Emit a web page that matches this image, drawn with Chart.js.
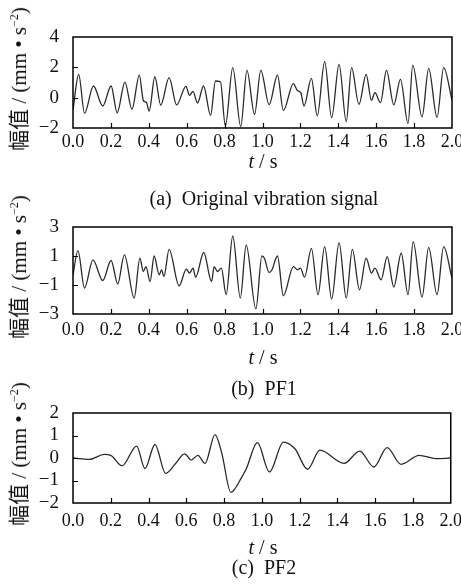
<!DOCTYPE html>
<html>
<head>
<meta charset="utf-8">
<script src="https://cdn.jsdelivr.net/npm/chart.js@4.4.1/dist/chart.umd.min.js"></script>
<style>
  body { margin: 0; background: #fff; }
  #fig { position: relative; width: 461px; height: 585px; overflow: hidden;
         font-family: "Liberation Serif", "Noto Sans CJK SC", serif; color: #111; }
  .panel { position: absolute; left: 0; }
  .lbl { position: absolute; white-space: nowrap; transform: translate(-50%, -50%); font-size: 20px;
         font-family: "Liberation Serif", "Noto Sans CJK SC", serif; }
  .ytitle { transform: translate(-50%, -50%) rotate(-90deg); font-size: 21px; }
  .ytitle sup { font-size: 12px; }
</style>
</head>
<body>
<div id="fig"></div>
<script>
const timeA = [0.0, 0.03, 0.061, 0.108, 0.157, 0.201, 0.233, 0.274, 0.311, 0.35, 0.371, 0.388, 0.402, 0.432, 0.463,
  0.507, 0.547, 0.596, 0.615, 0.633, 0.657, 0.689, 0.726, 0.752, 0.778, 0.804, 0.843, 0.885, 0.918, 0.958, 0.991,
  1.035, 1.079, 1.11, 1.163, 1.184, 1.202, 1.219, 1.258, 1.289, 1.328, 1.365, 1.404, 1.442, 1.47, 1.509, 1.547,
  1.575, 1.593, 1.623, 1.654, 1.693, 1.728, 1.768, 1.793, 1.842, 1.877, 1.921, 1.956, 2.0];
const ampA = [-0.8, 1.54, -1.03, 0.77, -0.55, 0.77, -1.0, 1.03, -0.77, 1.49, -0.18, -0.33, -0.88, 1.38, -0.5,
  1.32, -0.48, 0.75, 0.15, 0.42, -0.35, 0.77, -1.16, 1.1, 1.05, -1.85, 1.98, -1.9, 1.8, -1.1, 1.8,
  -0.46, 1.49, -0.84, 0.92, 0.48, 0.33, -0.55, 1.27, -1.2, 2.37, -1.32, 2.2, -1.58, 1.98, -0.44, 1.54,
  -0.18, 0.33, -0.33, 1.8, -0.48, 1.2, -1.71, 2.15, -1.27, 1.93, -1.3, 1.98, -0.15];

// Signal (b): PF1
const timeB = [0.0, 0.026, 0.061, 0.105, 0.157, 0.201, 0.236, 0.271, 0.323, 0.353, 0.371, 0.385, 0.407, 0.428, 0.455,
  0.467, 0.48, 0.507, 0.56, 0.598, 0.615, 0.633, 0.647, 0.69, 0.731, 0.745, 0.762, 0.783, 0.808, 0.843, 0.883,
  0.914, 0.965, 0.997, 1.01, 1.035, 1.05, 1.079, 1.11, 1.163, 1.184, 1.2, 1.222, 1.258, 1.293, 1.328, 1.365,
  1.404, 1.442, 1.474, 1.512, 1.547, 1.575, 1.593, 1.626, 1.658, 1.693, 1.732, 1.768, 1.795, 1.842, 1.877,
  1.921, 1.956, 2.0];
const ampB = [-0.3, 1.37, -1.21, 0.73, -0.69, 0.69, -0.92, 1.08, -1.9, 0.85, -0.07, 0.27, -0.76, 1.0, -0.3,
  0.05, -0.41, 1.46, -1.05, 0.09, -0.18, 0.16, -0.46, 1.24, -0.76, 0.27, -0.07, 0.16, -1.67, 2.38, -1.9,
  1.76, -2.65, 1.0, 0.85, -0.14, 0.05, 1.0, -1.74, 0.27, 0.05, 0.16, -0.46, 1.53, -1.67, 1.65, -1.97,
  1.92, -1.9, 1.46, -1.33, 0.85, -0.18, 0.16, -0.64, 0.96, -1.14, 1.19, -1.67, 1.99, -1.83, 1.6,
  -1.67, 1.65, -0.53];

// Signal (c): PF2
const timeC = [0.0, 0.087, 0.166, 0.2, 0.259, 0.337, 0.381, 0.434, 0.49, 0.54, 0.591, 0.626, 0.661, 0.699, 0.752,
  0.787, 0.836, 0.892, 0.918, 0.976, 1.04, 1.114, 1.175, 1.242, 1.307, 1.435, 1.518, 1.593, 1.663, 1.737,
  1.833, 1.921, 2.0];
const ampC = [0.0, -0.06, 0.16, 0.12, -0.35, 0.53, -0.47, 0.6, -0.68, -0.28, 0.18, -0.09, 0.12, -0.24, 1.04,
  0.24, -1.53, -0.87, -0.47, 0.68, -0.62, 0.71, 0.41, -0.5, 0.35, -0.24, 0.31, -0.4, 0.46, -0.28,
  0.12, -0.03, 0.0];

const captions = ['(a)\u00a0\u00a0Original vibration signal', '(b)\u00a0\u00a0PF1', '(c)\u00a0\u00a0PF2'];
const yRanges = [[-2, 4, 2], [-3, 3, 2], [-2, 2, 1]];
const xRange = [0, 2, 0.2];
const xTitle = '<i>t</i> / s';
const yTitle = '幅值 / (mm • s<sup>\u22122</sup>)';

// where each plot box sits on the page, plus its text rows
const boxes = [
  { top: 37, bottom: 128, tickGap: -5, xTitleY: 161, capY: 198 },
  { top: 227, bottom: 314, tickGap: -3, xTitleY: 357, capY: 388 },
  { top: 413, bottom: 503, tickGap: -1, xTitleY: 547, capY: 567 },
];

const FONT = '"Liberation Serif", "Times New Roman", serif';
const fig = document.getElementById('fig');

// box round the plot area and short inward ticks
const frame = {
  id: 'frame',
  afterDatasetsDraw(chart) {
    const { ctx, chartArea: a, scales } = chart;
    ctx.save();
    ctx.strokeStyle = '#000';
    ctx.lineWidth = 1.2;
    ctx.beginPath();
    for (const tk of scales.x.ticks) {
      if (tk.value < xRange[0] + 1e-6 || tk.value > xRange[1] - 1e-6) { continue; }
      const px = Math.round(scales.x.getPixelForValue(tk.value)) + 0.5;
      ctx.moveTo(px, a.bottom);
      ctx.lineTo(px, a.bottom - 5);
    }
    for (const tk of scales.y.ticks) {
      if (tk.value <= scales.y.min + 1e-6 || tk.value >= scales.y.max - 1e-6) { continue; }
      const py = Math.round(scales.y.getPixelForValue(tk.value)) + 0.5;
      ctx.moveTo(a.left, py);
      ctx.lineTo(a.left + 5, py);
    }
    ctx.stroke();
    ctx.lineWidth = 1.5;
    ctx.strokeRect(a.left, a.top, a.right - a.left, a.bottom - a.top);
    ctx.restore();
  }
};

function addLabel(html, cls, x, y) {
  const el = document.createElement('div');
  el.className = 'lbl ' + cls;
  el.innerHTML = html;
  el.style.left = x + 'px';
  el.style.top = y + 'px';
  fig.appendChild(el);
}

const series = [[timeA, ampA], [timeB, ampB], [timeC, ampC]];
const padTop = 30, axisH = 34;

series.forEach(([times, amps], i) => {
  const box = boxes[i];
  const [yMin, yMax, yStep] = yRanges[i];
  const wrap = document.createElement('div');
  wrap.className = 'panel';
  wrap.style.top = (box.top - padTop) + 'px';
  const canvas = document.createElement('canvas');
  canvas.width = 461;
  canvas.height = box.bottom - box.top + padTop + axisH;
  wrap.appendChild(canvas);
  fig.appendChild(wrap);

  new Chart(canvas, {
    type: 'line',
    data: {
      datasets: [{
        data: times.map((t, j) => ({ x: t, y: amps[j] })),
        borderColor: '#2a2a2a',
        borderWidth: 1.3,
        pointRadius: 0,
        cubicInterpolationMode: 'monotone',
      }]
    },
    options: {
      responsive: false,
      animation: false,
      layout: { padding: { top: padTop, right: 9, left: 0, bottom: 0 } },
      plugins: { legend: { display: false }, tooltip: { enabled: false } },
      scales: {
        x: {
          type: 'linear',
          min: xRange[0],
          max: xRange[1],
          grid: { display: false },
          border: { display: false },
          ticks: {
            stepSize: xRange[2],
            autoSkip: false,
            maxRotation: 0,
            padding: box.tickGap,
            color: '#111',
            font: { family: FONT, size: 18 },
            callback: v => v.toFixed(1),
          },
          afterFit: s => { s.height = axisH; },
        },
        y: {
          min: yMin,
          max: yMax,
          grid: { display: false },
          border: { display: false },
          ticks: {
            stepSize: yStep,
            autoSkip: false,
            padding: 6,
            color: '#111',
            font: { family: FONT, size: 19 },
            callback: v => (v < 0 ? '\u2212' + (-v) : String(v)),
          },
          afterFit: s => { s.width = 73; },
        }
      }
    },
    plugins: [frame]
  });

  const mid = (box.top + box.bottom) / 2;
  addLabel(yTitle, 'ytitle', 17, mid - 4);
  addLabel(xTitle, '', 263, box.xTitleY);
  addLabel(captions[i], '', 264, box.capY);
});
</script>
</body>
</html>
